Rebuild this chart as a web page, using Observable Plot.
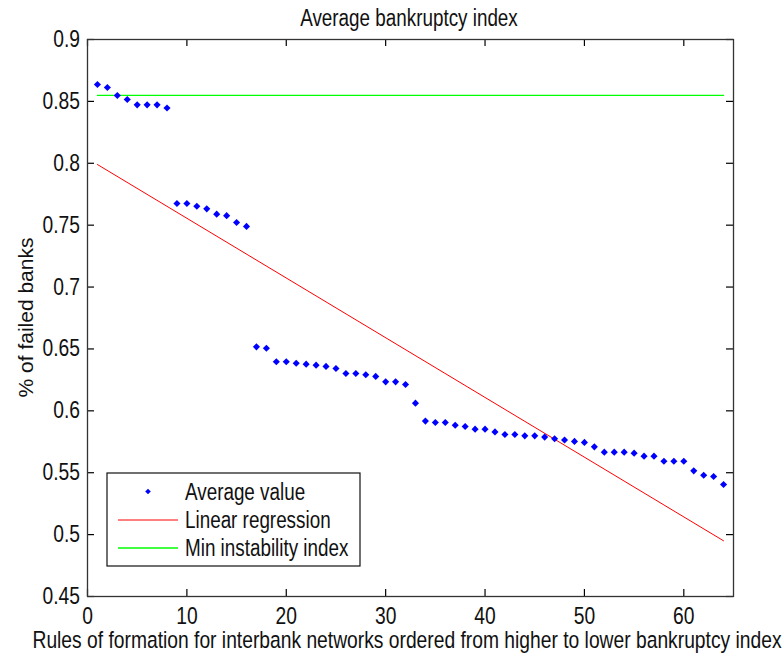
<!DOCTYPE html>
<html>
<head>
<meta charset="utf-8">
<script src="https://cdn.jsdelivr.net/npm/d3@7"></script>
<script src="https://cdn.jsdelivr.net/npm/@observablehq/plot@0.6"></script>
<style>
  html, body { margin: 0; padding: 0; background: #fff; }
  #chart { width: 784px; height: 659px; }
</style>
</head>
<body>
<div id="chart"></div>
<script>
// ---- data ----
const titleText = "Average bankruptcy index";
const xLabelText = "Rules of formation for interbank networks ordered from higher to lower bankruptcy index";
const yLabelText = "% of failed banks";

const ranks = d3.range(1, 65); // rule index 1..64
const averageValue = [
  0.8637, 0.8612, 0.8548, 0.8515, 0.8472, 0.8472, 0.8472, 0.8447,
  0.7675, 0.7675, 0.7653, 0.7632, 0.7589, 0.7577, 0.7522, 0.7490,
  0.6517, 0.6506, 0.6396, 0.6396, 0.6385, 0.6377, 0.6369, 0.6359,
  0.6342, 0.6302, 0.6302, 0.6291, 0.6278, 0.6234, 0.6234, 0.6213,
  0.6062, 0.5917, 0.5906, 0.5906, 0.5884, 0.5874, 0.5852, 0.5852,
  0.5830, 0.5809, 0.5809, 0.5798, 0.5798, 0.5788, 0.5774, 0.5764,
  0.5753, 0.5745, 0.5709, 0.5666, 0.5666, 0.5666, 0.5658, 0.5634,
  0.5634, 0.5593, 0.5593, 0.5593, 0.5515, 0.5480, 0.5470, 0.5405
];
const regressionX = [1, 64];
const regressionY = [0.799, 0.495];
const minInstabilityX = [1, 64];
const minInstabilityY = [0.8548, 0.8548];

const xTicks = [0, 10, 20, 30, 40, 50, 60];
const yTicks = [0.45, 0.5, 0.55, 0.6, 0.65, 0.7, 0.75, 0.8, 0.85, 0.9];
const legendLabels = ["Average value", "Linear regression", "Min instability index"];

// ---- build tables ----
const points = ranks.map((r, i) => ({x: r, y: averageValue[i]}));
const regression = regressionX.map((x, i) => ({x, y: regressionY[i]}));
const minLine = minInstabilityX.map((x, i) => ({x, y: minInstabilityY[i]}));

const W = 784, H = 659;
const mL = 87, mR = 51, mT = 39, mB = 63;
const plotW = W - mL - mR, plotH = H - mT - mB;
const TK = 7; // inward tick length
const SQ = 0.82; // horizontal squeeze of the condensed lettering
const font = "'Liberation Sans', Arial, sans-serif";
const fmtY = d => String(+d.toFixed(2));

const chart = Plot.plot({
  width: W, height: H,
  marginLeft: mL, marginRight: mR, marginTop: mT, marginBottom: mB,
  style: {fontFamily: font, fontSize: "23.5px", color: "#111", background: "#fff"},
  x: {domain: [0, 65], label: null},
  y: {domain: [0.45, 0.9], label: null},
  marks: [
    Plot.line(minLine, {x: "x", y: "y", stroke: "#00ff00", strokeWidth: 1.3}),
    Plot.line(regression, {x: "x", y: "y", stroke: "#ff0000", strokeWidth: 1}),
    Plot.dot(points, {x: "x", y: "y", symbol: "diamond2", r: 3.2, fill: "#0000ff", stroke: "none"}),
    // inward ticks on all four sides
    Plot.ruleX(xTicks, {insetTop: plotH - TK, stroke: "#000", strokeWidth: 1.2}),
    Plot.ruleX(xTicks, {insetBottom: plotH - TK, stroke: "#000", strokeWidth: 1.2}),
    Plot.ruleY(yTicks, {insetRight: plotW - TK, stroke: "#000", strokeWidth: 1.2}),
    Plot.ruleY(yTicks, {insetLeft: plotW - TK, stroke: "#000", strokeWidth: 1.2}),
    Plot.axisX(xTicks, {anchor: "bottom", tickSize: 0, tickPadding: 10.5, fontSize: 23.5, label: null, tickFormat: d => String(d)}),
    Plot.axisY(yTicks, {anchor: "left", tickSize: 0, tickPadding: 7.5, fontSize: 23.5, label: null, tickFormat: fmtY}),
    Plot.frame({stroke: "#333", strokeWidth: 1.3})
  ]
});

// condense the tick lettering horizontally around each anchor
d3.select(chart).selectAll('g[aria-label$="tick label"] text').each(function () {
  const t = this.getAttribute("transform") || "";
  const x = this.getAttribute("x");
  if (x !== null && !isNaN(+x)) {
    this.removeAttribute("x");
    this.setAttribute("transform", `${t} translate(${+x},0) scale(${SQ},1)`);
  } else {
    this.setAttribute("transform", `${t} scale(${SQ},1)`);
  }
});

const svg = d3.select(chart);
const cx = mL + plotW / 2;

function sqText(parent, x, y, size, anchor, text) {
  return parent.append("text")
    .attr("transform", `translate(${x},${y}) scale(${SQ},1)`)
    .attr("text-anchor", anchor)
    .style("font-family", font).style("font-size", size + "px")
    .attr("fill", "#111").text(text);
}

// title and x label
sqText(svg, cx - 1, 26, 23, "middle", titleText);
sqText(svg, cx - 3, 648, 23.5, "middle", xLabelText);
// y label
svg.append("text").attr("transform", `translate(33,${mT + plotH / 2}) rotate(-90)`)
  .attr("text-anchor", "middle").style("font-family", font).style("font-size", "21px")
  .attr("fill", "#111").text(yLabelText);

// legend
const lx = mL + 20, ly = 473, lw = 253, lh = 93;
const g = svg.append("g");
g.append("rect").attr("x", lx).attr("y", ly).attr("width", lw).attr("height", lh)
  .attr("fill", "#fff").attr("stroke", "#111").attr("stroke-width", 1.2);
const rows = [ly + 18.5, ly + 47, ly + 75];
g.append("path").attr("transform", `translate(${lx + 41},${rows[0]})`)
  .attr("d", d3.symbol(d3.symbolDiamond2, 20)()).attr("fill", "#0000ff");
g.append("line").attr("x1", lx + 11).attr("x2", lx + 71).attr("y1", rows[1]).attr("y2", rows[1])
  .attr("stroke", "#ff0000").attr("stroke-width", 1);
g.append("line").attr("x1", lx + 11).attr("x2", lx + 71).attr("y1", rows[2]).attr("y2", rows[2])
  .attr("stroke", "#00ff00").attr("stroke-width", 1.3);
legendLabels.forEach((t, i) => {
  sqText(g, lx + 78, rows[i] + 8, 23, "start", t);
});

document.getElementById("chart").appendChild(chart);
</script>
</body>
</html>
